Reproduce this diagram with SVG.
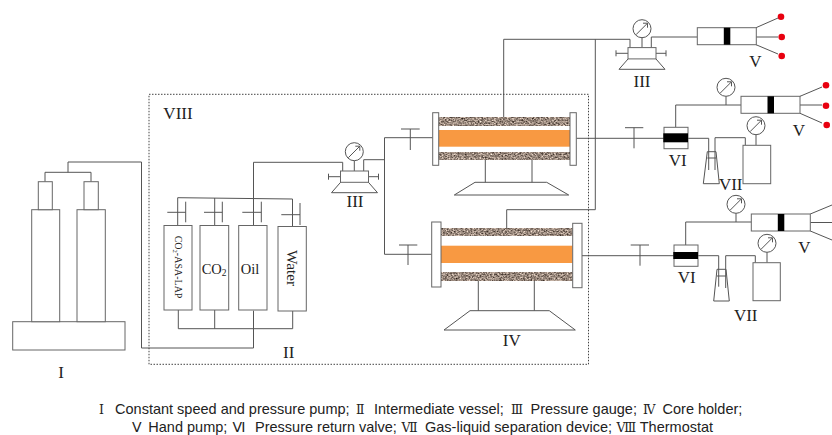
<svg xmlns="http://www.w3.org/2000/svg" width="832" height="435" viewBox="0 0 832 435">
<style>
.l{fill:none;stroke:#555;stroke-width:1}
.b{fill:#fff;stroke:#666;stroke-width:1}
.k{fill:#000}
.r{fill:#e8000f}
.o{fill:#f89942}
.t{font-family:"Liberation Serif","Times New Roman",serif;fill:#222;font-size:17px;text-anchor:middle}
.v{font-family:"Liberation Serif","Times New Roman",serif;fill:#222;font-size:14.5px}
.c{font-family:"Liberation Sans","Noto Sans CJK SC",sans-serif;fill:#222;font-size:14.500px}
.n{font-family:"DejaVu Serif","Liberation Serif",serif;font-size:12.500px}
.m{font-family:"DejaVu Sans","Liberation Sans",sans-serif;font-size:14px}
.rock{filter:url(#grain)}
</style>
<defs>
<filter id="grain" x="0" y="0" width="100%" height="100%" color-interpolation-filters="sRGB">
<feTurbulence type="fractalNoise" baseFrequency="0.55 0.7" numOctaves="2" seed="7" result="n"/>
<feColorMatrix in="n" type="matrix" values="1.200 0 0 0 0 1.150 0 0 0 -0.040 1.100 0 0 0 -0.060 0 0 0 0 1"/>
</filter>
<g id="gauge">
<circle r="9" fill="#fff" stroke="#555"/>
<path class="l" d="M-6 6L5.500-5.500M1-5.500H5.500V-1"/>
</g>
<g id="reg">
<path class="l" d="M-26-3V3M-26 0H-14M14 0H24M24-3V3"/>
<rect class="b" x="-14" y="-5.700" width="28" height="11.300"/>
<path class="l" d="M-14 5.700L-23 16H23L14 5.700"/>
</g>
<g id="pump">
<rect class="b" width="59" height="17"/>
<rect class="k" x="26.500" width="6.500" height="17"/>
</g>
</defs>
<g id="connectors" class="l">
<path class="l" d="M45 181.700V172.300H91V181.700M68 172.300V162H141.500V348H253.500V310.700"/>
<path class="l" d="M177.700 225.500V197.700L292.500 199V226.500M214.700 198V225.500"/>
<path class="l" d="M178.300 310V328.700H292.700V311M214.700 310V328.700"/>
<path class="l" d="M253.500 225.500V162.300H342.700V171"/>
<path class="l" d="M363.700 171V159.700H384.500M432.700 137.700H384.500V254.300H431.700"/>
<path class="l" d="M503.700 117.300V39.300H630V47.700M595.300 39.300V209.700H506.700V228"/>
<path class="l" d="M651.300 47.700V37H697.300"/>
<path class="l" d="M576.300 138.300H664M688 138.300H708.700V170M715 170V137.700H745.300V145.300"/>
<path class="l" d="M675.700 127.300V105H741"/>
<path class="l" d="M582 255.700H674M698 255.700H718.700V286.700M725.700 288V255.700H755.300V262.700"/>
<path class="l" d="M685.700 245V222H752"/>
<path class="l" d="M726 96.300V105M756 134.700V145.300M736 213.300V222M767 252.300V262.700"/>
<path class="l" d="M756 27.700L778 18M756 37H778M756 44.700L778 54"/>
<path class="l" d="M800 96.300L822 87M800 105H822M800 113.300L822 123"/>
<path class="l" d="M810.300 214L832 205M810.300 222.500H832M810.300 231L832 240"/>
</g>
<g id="valves">
<path class="l" d="M167.300 212.300H185.700M185.700 201.700V222.300"/>
<path class="l" d="M204 212.300H222.300M222.300 201.700V222.300"/>
<path class="l" d="M242.300 212.300H261.300M261.300 201.700V222.300"/>
<path class="l" d="M281.300 214.700H300M300 203V225"/>
<path class="l" d="M401 129H419.700M410.300 129V150"/>
<path class="l" d="M399 245H417.300M408 245V265"/>
<path class="l" d="M625 127.700H643.300M634 127.700V148.300"/>
<path class="l" d="M630.700 245H649M640 245V265.700"/>
</g>
<g id="pump-I">
<rect class="b" x="12.700" y="321.700" width="112.300" height="28.300"/>
<rect class="b" x="31.700" y="209.700" width="28" height="112"/>
<rect class="b" x="77" y="209.700" width="28.300" height="112"/>
<rect class="b" x="38.300" y="181.700" width="14" height="28"/>
<rect class="b" x="84" y="181.700" width="14.300" height="28"/>
<text class="t" x="61" y="378.300">I</text>
</g>
<g id="vessels-II">
<rect class="b" x="164" y="225.500" width="28" height="84.500"/>
<rect class="b" x="200" y="225.500" width="28.700" height="84.500"/>
<rect class="b" x="238.700" y="225.500" width="28.300" height="84.500"/>
<rect class="b" x="278" y="226.500" width="28.300" height="84.500"/>
<text class="v" style="font-size:10px" transform="translate(174.700 235.700) rotate(90)">CO<tspan dy="1.500" style="font-size:6.500px">2</tspan><tspan dy="-1.500">-ASA-LAP</tspan></text>
<text class="v" x="201.700" y="273.700">CO<tspan dy="2" style="font-size:9.500px">2</tspan></text>
<text class="v" x="240.700" y="273.700">Oil</text>
<text class="v" style="font-size:15.300px" transform="translate(287.300 250) rotate(90)">Water</text>
<text class="t" x="288.700" y="358">II</text>
</g>
<g id="thermostat-VIII">
<rect x="149" y="94.300" width="439.500" height="270" fill="none" stroke="#444" stroke-width="1" stroke-dasharray="1.500 1.500"/>
<text class="t" x="178" y="119">VIII</text>
</g>
<g id="gauge-III-middle">
<use href="#gauge" x="354.300" y="151.700"/>
<path class="l" d="M354.300 160.700V171"/>
<use href="#reg" x="354.500" y="176.700"/>
<text class="t" x="355" y="207">III</text>
</g>
<g id="holder-IV-top">
<rect class="rock" x="438.700" y="117.300" width="131.300" height="8"/>
<rect class="rock" x="438.700" y="152" width="131.300" height="7.700"/>
<rect class="o" x="438.700" y="130" width="131.300" height="16.700"/>
<rect class="b" x="432.700" y="112.700" width="6" height="52.600"/>
<rect class="b" x="570" y="112.700" width="6.300" height="52.600"/>
<path class="l" d="M485.300 159.700V182.300M532 159.700V182.300M454.300 195L475 182.300H546.700L568.700 195Z"/>
</g>
<g id="holder-IV-bottom">
<rect class="rock" x="441" y="228" width="131.700" height="8"/>
<rect class="rock" x="441" y="272.700" width="131.700" height="8.300"/>
<rect class="o" x="441" y="245.700" width="131.700" height="17.300"/>
<rect class="b" x="431.700" y="222" width="9.300" height="65"/>
<rect class="b" x="572.700" y="223.300" width="9.300" height="64.400"/>
<path class="l" d="M478.300 281V310.700M534.300 281V310.700M444 330L470 310.700H549.300L575.300 330Z"/>
<text class="t" x="511.700" y="346">IV</text>
</g>
<g id="gauge-III-top">
<use href="#gauge" x="642" y="28.700"/>
<path class="l" d="M642 37.700V47.700"/>
<use href="#reg" x="642" y="53.300"/>
<text class="t" x="642" y="87">III</text>
</g>
<g id="pump-V-top">
<use href="#pump" x="697.300" y="27.700"/>
<circle class="r" cx="781" cy="16.700" r="3.300"/>
<circle class="r" cx="781.700" cy="37" r="3.300"/>
<circle class="r" cx="781.700" cy="56" r="3.300"/>
<text class="t" x="755.300" y="67">V</text>
</g>
<g id="pump-V-middle">
<use href="#gauge" x="726" y="87.300"/>
<use href="#pump" x="741" y="96.300"/>
<circle class="r" cx="826" cy="85.300" r="3.300"/>
<circle class="r" cx="826" cy="105.700" r="3.300"/>
<circle class="r" cx="826.700" cy="125" r="3.300"/>
<text class="t" x="799" y="135.700">V</text>
</g>
<g id="pump-V-bottom">
<use href="#gauge" x="736" y="204.300"/>
<use href="#pump" x="751.300" y="214"/>
<text class="t" x="804.300" y="253.300">V</text>
</g>
<g id="valve-VI-top">
<rect class="b" x="664" y="127.300" width="24" height="21.400"/>
<rect class="k" x="663.300" y="133.300" width="24.700" height="9"/>
<text class="t" x="677.700" y="165.700">VI</text>
</g>
<g id="valve-VI-bottom">
<rect class="b" x="674" y="245" width="24" height="21.300"/>
<rect class="k" x="673.300" y="252" width="24.700" height="7"/>
<text class="t" x="686.700" y="283">VI</text>
</g>
<g id="separator-VII-top">
<path class="l" d="M707.300 151.700H716L719.300 183.700H703.300ZM707.300 158H716"/>
<rect class="b" x="743" y="145.300" width="27.700" height="38.400"/>
<use href="#gauge" x="756" y="125.700"/>
<text class="t" x="730.700" y="190">VII</text>
</g>
<g id="separator-VII-bottom">
<path class="l" d="M717 269.300H726L729.300 301H713.700ZM717 276H726"/>
<rect class="b" x="753" y="262.700" width="27.300" height="38"/>
<use href="#gauge" x="767" y="243.300"/>
<text class="t" x="745.700" y="320.700">VII</text>
</g>
<g id="caption">
<text class="c" y="413.700"><tspan class="n" x="99">Ⅰ</tspan><tspan x="111"> Constant speed and pressure pump;</tspan><tspan class="n" x="356">Ⅱ</tspan><tspan x="370"> Intermediate vessel;</tspan><tspan class="n" x="511">Ⅲ</tspan><tspan x="526.500"> Pressure gauge;</tspan><tspan class="n" x="643">Ⅳ</tspan><tspan x="658.500"> Core holder;</tspan></text>
<text class="c" y="431.500"><tspan class="m" x="132">Ⅴ</tspan><tspan x="144.300"> Hand pump;</tspan><tspan class="m" x="232.500">Ⅵ</tspan><tspan x="251"> Pressure return valve;</tspan><tspan class="n" x="401.500">Ⅶ</tspan><tspan x="421"> Gas-liquid separation device;</tspan><tspan class="n" x="616.500">Ⅷ</tspan><tspan x="636"> Thermostat</tspan></text>
</g>
</svg>
